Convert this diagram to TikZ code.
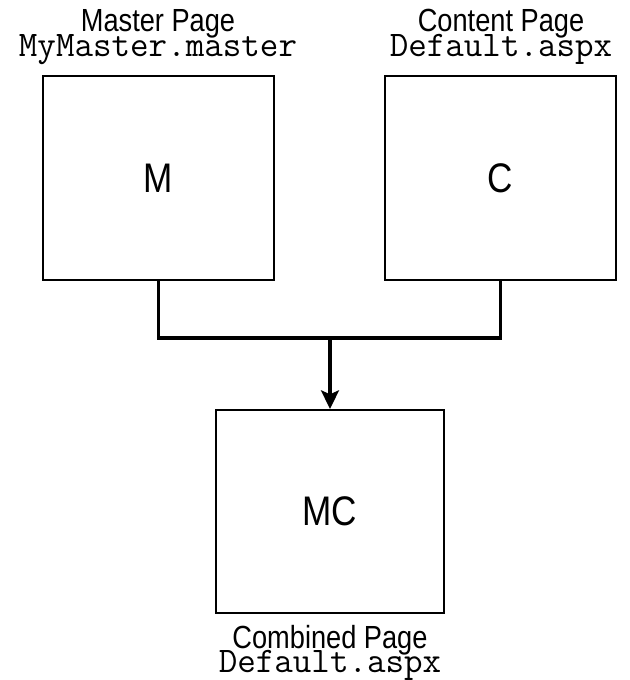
\documentclass[tikz,border=0pt]{standalone}
\usepackage{fontspec}
\setmainfont{Liberation Sans}[FakeStretch=0.85]
\usetikzlibrary{arrows.meta,positioning}

\begin{document}
\begin{tikzpicture}[x=0.75pt, y=-0.75pt, page/.style={draw, line width=1.5pt, minimum width=#1, minimum height=153pt, inner sep=0pt, font=\fontsize{31}{36}\selectfont}, title/.style={anchor=base, inner sep=0pt, font=\fontsize{24}{26}\selectfont}, file/.style={anchor=base, inner sep=0pt, font=\ttfamily\fontsize{27}{28}\selectfont}, link/.style={line width=2.4pt}, arr/.style={link, -{Stealth[length=14pt, width=13.5pt, inset=3pt]}}]
\useasboundingbox (0,0) rectangle (630,680);
\node[page=173.25pt] (master) at (158.5,178) {M};
\node[page=173.25pt] (content) at (500.5,178) {C};
\node[page=171pt, minimum height=152.25pt] (combined) at (330,511.5) {MC};
% labels
\node[title] (mtitle) at (158,32) {Master Page};
\node[file] (mfile) at (158,57) {MyMaster.master};
\node[title] (ctitle) at (501,32) {Content Page};
\node[file] (cfile) at (501,57) {Default.aspx};
\node[title] (btitle) at (330,648) {Combined Page};
\node[file] (bfile) at (330,672) {Default.aspx};
% connectors
\coordinate (join) at (330,338);
\draw[link] (master.south) |- (join) -| (content.south);
\draw[arr] (join) -- (combined.north);
\end{tikzpicture}
\end{document}
